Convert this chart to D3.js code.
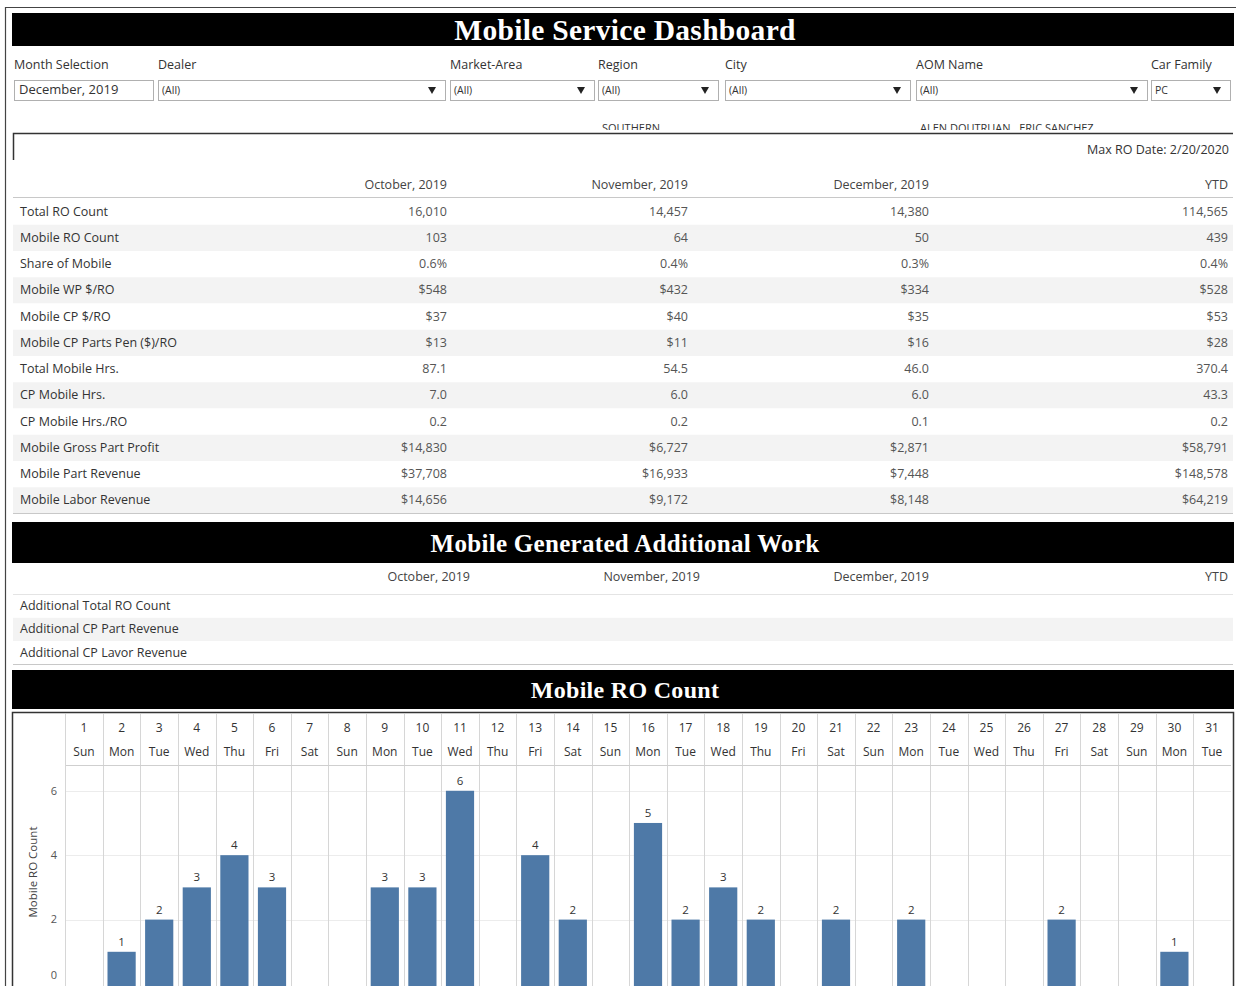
<!DOCTYPE html>
<html>
<head>
<meta charset="utf-8">
<script src="https://cdn.jsdelivr.net/npm/d3@7"></script>
<style>
  body { margin: 0; background: #fff; }
  svg text { font-family: "Open Sans", "Noto Sans", sans-serif; }
</style>
</head>
<body>
<div id="dashboard"></div>
<script>
// ---- data ----
var filterLabels = ["Month Selection", "Dealer", "Market-Area", "Region", "City", "AOM Name", "Car Family"]
var filterValues = ["December, 2019", "(All)", "(All)", "(All)", "(All)", "(All)", "PC"]
var filterNotes = ["", "", "", "SOUTHERN ...", "", "ALEN DOUTRUAN , ERIC SANCHEZ ...", ""]

var months = ["October, 2019", "November, 2019", "December, 2019", "YTD"]
var metricNames = ["Total RO Count", "Mobile RO Count", "Share of Mobile", "Mobile WP $/RO", "Mobile CP $/RO",
    "Mobile CP Parts Pen ($)/RO", "Total Mobile Hrs.", "CP Mobile Hrs.", "CP Mobile Hrs./RO",
    "Mobile Gross Part Profit", "Mobile Part Revenue", "Mobile Labor Revenue"]
var metricFormats = ["count", "count", "pct", "usd", "usd", "usd", "hrs", "hrs", "hrs", "usd", "usd", "usd"]
var octValues = [16010, 103, 0.6, 548, 37, 13, 87.1, 7.0, 0.2, 14830, 37708, 14656]
var novValues = [14457, 64, 0.4, 432, 40, 11, 54.5, 6.0, 0.2, 6727, 16933, 9172]
var decValues = [14380, 50, 0.3, 334, 35, 16, 46.0, 6.0, 0.1, 2871, 7448, 8148]
var ytdValues = [114565, 439, 0.4, 528, 53, 28, 370.4, 43.3, 0.2, 58791, 148578, 64219]

var extraNames = ["Additional Total RO Count", "Additional CP Part Revenue", "Additional CP Lavor Revenue"]

var days = d3.range(1, 32)
var weekdays = ["Sun", "Mon", "Tue", "Wed", "Thu", "Fri", "Sat", "Sun", "Mon", "Tue", "Wed", "Thu", "Fri", "Sat",
    "Sun", "Mon", "Tue", "Wed", "Thu", "Fri", "Sat", "Sun", "Mon", "Tue", "Wed", "Thu", "Fri", "Sat", "Sun", "Mon", "Tue"]
var mobileCounts = [0, 1, 2, 3, 4, 3, 0, 0, 3, 3, 6, 0, 4, 2, 0, 5, 2, 3, 2, 0, 2, 0, 2, 0, 0, 0, 2, 0, 0, 1, 0]
var yTicks = [0, 2, 4, 6]

// ---- drawing ----
var width = 1238
var height = 986

var svg = d3.select("#dashboard")
    .append("svg")
    .attr("width", width)
    .attr("height", height)

var fmt = {
    count: d3.format(",d"),
    pct: (v) => d3.format(".1f")(v) + "%",
    usd: d3.format("$,.0f"),
    hrs: d3.format(".1f")
}

// outer frame
svg.append("path")
    .attr("d", "M5.5,986 V7.5 H1236")
    .attr("fill", "none")
    .attr("stroke", "#444")
    .attr("stroke-width", 1.2)

// black header bars
var titleBar = (y, h, label, size) => {
    svg.append("rect")
        .attr("x", 12).attr("y", y)
        .attr("width", 1222).attr("height", h)
        .attr("fill", "#000")
    svg.append("text")
        .attr("x", 625).attr("y", y + h / 2)
        .attr("dy", "0.36em")
        .attr("text-anchor", "middle")
        .style("font-family", "'Liberation Serif', 'DejaVu Serif', serif")
        .style("font-weight", "bold")
        .style("font-size", size + "px")
        .style("letter-spacing", "0.3px")
        .attr("fill", "#fff")
        .text(label)
}
titleBar(13, 33, "Mobile Service Dashboard", 29.5)

// filters
var filterX = d3.scaleOrdinal().domain(filterLabels).range([14, 158, 450, 598, 725, 916, 1151])
var filterW = d3.scaleOrdinal().domain(filterLabels).range([139, 287, 144, 120, 185, 231, 79])

var filters = svg.append("g").selectAll("g")
    .data(filterLabels)
    .enter()
    .append("g")
    .attr("transform", (d) => "translate(" + filterX(d) + ",0)")

filters.append("text")
    .attr("x", 0).attr("y", 69)
    .style("font-size", "12.5px")
    .attr("fill", "#333")
    .text((d) => d)

filters.append("rect")
    .attr("x", 0.5).attr("y", 80.5)
    .attr("width", (d) => filterW(d)).attr("height", 20)
    .attr("fill", "#fff")
    .attr("stroke", "#b0b0b0")

filters.append("text")
    .attr("x", (d, i) => i == 0 ? 5 : 4).attr("y", 94)
    .style("font-size", (d, i) => i == 0 ? "13px" : "10.5px")
    .attr("fill", "#333")
    .text((d, i) => filterValues[i])

filters.filter((d, i) => i > 0)
    .append("path")
    .attr("d", (d) => {
        var cx = filterW(d) - 13
        return "M" + (cx - 4) + ",87 L" + (cx + 4) + ",87 L" + cx + ",94 Z"
    })
    .attr("fill", "#222")

// truncated selection notes, clipped above the container line
svg.append("clipPath").attr("id", "noteclip")
    .append("rect").attr("x", 0).attr("y", 110).attr("width", width).attr("height", 20)

filters.filter((d, i) => filterNotes[i] != "")
    .append("text")
    .attr("x", 4).attr("y", 131.5)
    .attr("clip-path", "url(#noteclip)")
    .style("font-size", "11px")
    .attr("fill", "#333")
    .text((d, i) => filterNotes[filterLabels.indexOf(d)])

svg.append("path")
    .attr("d", "M13.5,160 V133.5 H1233")
    .attr("fill", "none")
    .attr("stroke", "#333")
    .attr("stroke-width", 1.5)

svg.append("text")
    .attr("x", 1229).attr("y", 154)
    .attr("text-anchor", "end")
    .style("font-size", "12.5px")
    .attr("fill", "#333")
    .text("Max RO Date: 2/20/2020")

// main metrics table
var colRight = d3.scaleOrdinal().domain(months).range([447, 688, 929, 1228])
var rowY = d3.scaleBand().domain(metricNames).range([198, 513])
var monthValues = [octValues, novValues, decValues, ytdValues]

var table = svg.append("g")

table.selectAll(".hdr")
    .data(months)
    .enter()
    .append("text")
    .attr("class", "hdr")
    .attr("x", (d) => colRight(d)).attr("y", 189)
    .attr("text-anchor", "end")
    .style("font-size", "12.5px")
    .attr("fill", "#444")
    .text((d) => d)

table.append("line")
    .attr("x1", 13).attr("x2", 1233)
    .attr("y1", 197.5).attr("y2", 197.5)
    .attr("stroke", "#c8c8c8")

var rows = table.selectAll(".row")
    .data(metricNames)
    .enter()
    .append("g")
    .attr("class", "row")
    .attr("transform", (d) => "translate(0," + rowY(d) + ")")

rows.append("rect")
    .attr("x", 13).attr("y", 0.5)
    .attr("width", 1220).attr("height", rowY.bandwidth())
    .attr("fill", (d, i) => i % 2 == 1 ? "#f3f3f3" : "#fff")

rows.append("text")
    .attr("x", 20).attr("y", rowY.bandwidth() / 2)
    .attr("dy", "0.35em")
    .style("font-size", "12.5px")
    .attr("fill", "#333")
    .text((d) => d)

months.forEach((m, j) => {
    rows.append("text")
        .attr("x", colRight(m)).attr("y", rowY.bandwidth() / 2)
        .attr("dy", "0.35em")
        .attr("text-anchor", "end")
        .style("font-size", "12.5px")
        .attr("fill", "#555")
        .text((d, i) => fmt[metricFormats[i]](monthValues[j][i]))
})

table.append("line")
    .attr("x1", 13).attr("x2", 1233)
    .attr("y1", 513.5).attr("y2", 513.5)
    .attr("stroke", "#c8c8c8")

// additional work section
titleBar(522, 41, "Mobile Generated Additional Work", 25)

var colRight2 = d3.scaleOrdinal().domain(months).range([470, 700, 929, 1228])
var rowY2 = d3.scaleBand().domain(extraNames).range([594, 664])

svg.selectAll(".hdr2")
    .data(months)
    .enter()
    .append("text")
    .attr("class", "hdr2")
    .attr("x", (d) => colRight2(d)).attr("y", 581)
    .attr("text-anchor", "end")
    .style("font-size", "12.5px")
    .attr("fill", "#444")
    .text((d) => d)

svg.append("line")
    .attr("x1", 13).attr("x2", 1233)
    .attr("y1", 594.5).attr("y2", 594.5)
    .attr("stroke", "#c8c8c8")

var rows2 = svg.selectAll(".row2")
    .data(extraNames)
    .enter()
    .append("g")
    .attr("class", "row2")
    .attr("transform", (d) => "translate(0," + rowY2(d) + ")")

rows2.append("rect")
    .attr("x", 13).attr("y", 0.5)
    .attr("width", 1220).attr("height", rowY2.bandwidth())
    .attr("fill", (d, i) => i % 2 == 1 ? "#f3f3f3" : "#fff")

rows2.append("text")
    .attr("x", 20).attr("y", rowY2.bandwidth() / 2)
    .attr("dy", "0.35em")
    .style("font-size", "12.5px")
    .attr("fill", "#333")
    .text((d) => d)

svg.append("line")
    .attr("x1", 13).attr("x2", 1233)
    .attr("y1", 664.5).attr("y2", 664.5)
    .attr("stroke", "#c8c8c8")

// daily bar chart
titleBar(670, 39, "Mobile RO Count", 24)

var x = d3.scaleBand().domain(days).range([65.2, 1230.8]).paddingInner(0.25).paddingOuter(0.125)
var y = d3.scaleLinear().domain([0, 6.8]).range([984, 765])

var chart = svg.append("g")

chart.append("rect")
    .attr("x", 12.5).attr("y", 712.5)
    .attr("width", 1221).attr("height", 290)
    .attr("fill", "#fff")
    .attr("stroke", "#333")
    .attr("stroke-width", 1.5)

// horizontal gridlines
chart.selectAll(".hgrid")
    .data(yTicks.filter((d) => d > 0))
    .enter()
    .append("line")
    .attr("x1", 66).attr("x2", 1231)
    .attr("y1", (d) => Math.round(y(d)) + 0.5).attr("y2", (d) => Math.round(y(d)) + 0.5)
    .attr("stroke", "#ececec")

// column separators
chart.selectAll(".vgrid")
    .data(days)
    .enter()
    .append("line")
    .attr("x1", (d) => Math.round(x(d) - x.step() * x.paddingInner() / 2) + 0.5)
    .attr("x2", (d) => Math.round(x(d) - x.step() * x.paddingInner() / 2) + 0.5)
    .attr("y1", 714).attr("y2", 986)
    .attr("stroke", "#d6d6d6")

chart.append("line")
    .attr("x1", 66).attr("x2", 1231)
    .attr("y1", 765.5).attr("y2", 765.5)
    .attr("stroke", "#cfcfcf")

// day headers
chart.selectAll(".dayNum")
    .data(days)
    .enter()
    .append("text")
    .attr("x", (d) => x(d) + x.bandwidth() / 2).attr("y", 732)
    .attr("text-anchor", "middle")
    .style("font-size", "12px")
    .attr("fill", "#333")
    .text((d) => d)

chart.selectAll(".dayName")
    .data(days)
    .enter()
    .append("text")
    .attr("x", (d) => x(d) + x.bandwidth() / 2).attr("y", 756)
    .attr("text-anchor", "middle")
    .style("font-size", "12px")
    .attr("fill", "#333")
    .text((d, i) => weekdays[i])

// y axis labels
chart.selectAll(".ytick")
    .data(yTicks)
    .enter()
    .append("text")
    .attr("x", 54).attr("y", (d) => Math.min(y(d), 975))
    .attr("dy", "0.35em")
    .attr("text-anchor", "middle")
    .style("font-size", "11px")
    .attr("fill", "#555")
    .text((d) => d)

chart.append("text")
    .attr("transform", "translate(33,872) rotate(-90)")
    .attr("text-anchor", "middle")
    .attr("dy", "0.35em")
    .style("font-size", "11.5px")
    .attr("fill", "#444")
    .text("Mobile RO Count")

// bars
var barData = days.map((d, i) => ({ day: d, count: mobileCounts[i] })).filter((d) => d.count > 0)

chart.selectAll(".bar")
    .data(barData)
    .enter()
    .append("rect")
    .attr("class", "bar")
    .attr("x", (d) => x(d.day))
    .attr("y", (d) => y(d.count))
    .attr("width", x.bandwidth())
    .attr("height", (d) => y(0) - y(d.count) + 4)
    .attr("fill", "#4e79a7")

chart.selectAll(".barLabel")
    .data(barData)
    .enter()
    .append("text")
    .attr("x", (d) => x(d.day) + x.bandwidth() / 2)
    .attr("y", (d) => y(d.count) - 6)
    .attr("text-anchor", "middle")
    .style("font-size", "11.5px")
    .attr("fill", "#333")
    .text((d) => d.count)
</script>
</body>
</html>
